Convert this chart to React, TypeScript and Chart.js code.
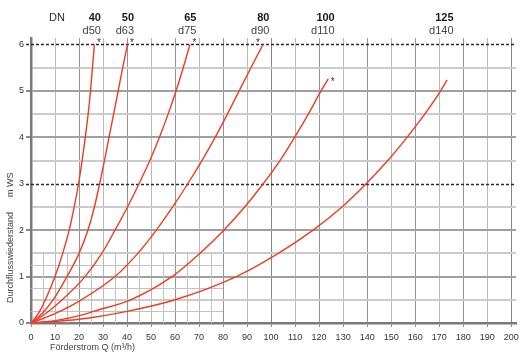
import React, { useEffect, useRef } from 'react';
import { Chart, registerables } from 'chart.js';

Chart.register(...registerables);

// ---- data (Q in m³/h, H in m WS) ----
const dn40Q = [0, 3, 6, 10, 13.2, 15.9, 18, 19.8, 21.3, 22.6, 23.8, 24.8, 25.6, 26.4];
const dn40H = [0, 0.2, 0.5, 1, 1.5, 2, 2.5, 3, 3.5, 4, 4.5, 5, 5.5, 6];
const dn50Q = [0, 4.5, 9.2, 15, 20, 23.7, 26.4, 28.6, 30.6, 32.5, 34.4, 36.3, 38.2, 40.2];
const dn50H = [0, 0.2, 0.5, 1, 1.5, 2, 2.5, 3, 3.5, 4, 4.5, 5, 5.5, 6];
const dn65Q = [0, 6, 13, 22.5, 29.5, 35, 40.2, 45, 49.5, 53.5, 57.1, 60.4, 63.4, 66.2];
const dn65H = [0, 0.2, 0.5, 1, 1.5, 2, 2.5, 3, 3.5, 4, 4.5, 5, 5.5, 6];
const dn80Q = [0, 10, 21, 35, 44.5, 52.2, 59, 65.3, 71.2, 76.7, 81.8, 86.7, 91.6, 96.6];
const dn80H = [0, 0.2, 0.5, 1, 1.5, 2, 2.5, 3, 3.5, 4, 4.5, 5, 5.5, 6];
const dn100Q = [0, 10, 21.8, 26, 41.5, 58.7, 70.3, 80.3, 89, 96.7, 103.7, 109.8, 115.5, 120.8, 123.8];
const dn100H = [0, 0.05, 0.18, 0.25, 0.5, 1, 1.5, 2, 2.5, 3, 3.5, 4, 4.5, 5, 5.26];
const dn125Q = [0, 20, 40, 60, 85.5, 103, 117.5, 129.5, 139.6, 148.6, 156.6, 164, 170.6, 173.3];
const dn125H = [0, 0.08, 0.25, 0.5, 1, 1.5, 2, 2.5, 3, 3.5, 4, 4.5, 5, 5.24];

const dnLabels = ['40', '50', '65', '80', '100', '125'];
const dLabels = ['d50', 'd63', 'd75', 'd90', 'd110', 'd140'];
const hasAsterisk = [true, true, true, true, true, false];

const xTickValues = [0, 10, 20, 30, 40, 50, 60, 70, 80, 90, 100, 110, 120, 130, 140, 150, 160, 170, 180, 190, 200];
const yTickValues = [0, 0.5, 1, 1.5, 2, 2.5, 3, 3.5, 4, 4.5, 5, 5.5, 6];
const fineXValues = [5, 15, 25, 35, 45, 55, 65, 75];
const fineYValues = [0.25, 0.75, 1.25];
const fineXMax = 80;
const fineYMax = 1.5;
const dashedYValues = [3, 6];

const xTitle = 'Förderstrom Q (m³/h)';
const yTitleMain = 'Durchflusswiederstand';
const yTitleUnit = 'm WS';

const series = [
  [dn40Q, dn40H],
  [dn50Q, dn50H],
  [dn65Q, dn65H],
  [dn80Q, dn80H],
  [dn100Q, dn100H],
  [dn125Q, dn125H],
];

const FONT = '"Liberation Sans", Arial, Helvetica, sans-serif';
const CURVE = '#ef3b24';

const overlay = {
  id: 'overlay',
  beforeDatasetsDraw(chart: any) {
    const { ctx, scales } = chart;
    const x = scales.x;
    const y = scales.y;
    ctx.save();
    ctx.strokeStyle = '#c2c2c2';
    ctx.lineWidth = 1;
    fineYValues.forEach((v) => {
      const py = Math.round(y.getPixelForValue(v)) + 0.5;
      ctx.beginPath();
      ctx.moveTo(x.getPixelForValue(0), py);
      ctx.lineTo(x.getPixelForValue(fineXMax), py);
      ctx.stroke();
    });
    fineXValues.forEach((v) => {
      const px = Math.round(x.getPixelForValue(v)) + 0.5;
      ctx.beginPath();
      ctx.moveTo(px, y.getPixelForValue(0));
      ctx.lineTo(px, y.getPixelForValue(fineYMax));
      ctx.stroke();
    });
    ctx.strokeStyle = '#2a2a2a';
    ctx.lineWidth = 1.3;
    ctx.setLineDash([3, 2]);
    dashedYValues.forEach((v) => {
      const py = Math.round(y.getPixelForValue(v)) + 0.5;
      ctx.beginPath();
      ctx.moveTo(x.left - 5, py);
      ctx.lineTo(x.right, py);
      ctx.stroke();
    });
    ctx.restore();
  },
  afterDraw(chart: any) {
    const { ctx, scales } = chart;
    const x = scales.x;
    const y = scales.y;
    const top = chart.chartArea.top;
    ctx.save();
    ctx.fillStyle = '#2a2a2a';
    ctx.textBaseline = 'middle';
    ctx.font = `11px ${FONT}`;
    ctx.textAlign = 'right';
    ctx.fillText('DN', x.left + 34, top - 20);
    series.forEach(([qs, hs], i) => {
      const endQ = qs[qs.length - 1];
      const endH = hs[hs.length - 1];
      const ex = x.getPixelForValue(endQ);
      const ey = y.getPixelForValue(endH);
      ctx.textAlign = 'right';
      ctx.font = `bold 11px ${FONT}`;
      ctx.fillStyle = '#1a1a1a';
      ctx.fillText(dnLabels[i], ex + 6.5, top - 20);
      ctx.font = `11px ${FONT}`;
      ctx.fillStyle = '#444';
      ctx.fillText(dLabels[i], ex + 6.5, top - 7);
      if (hasAsterisk[i]) {
        ctx.font = `10px ${FONT}`;
        ctx.fillStyle = '#333';
        ctx.textAlign = 'center';
        const dx = i === 3 ? -5 : 4.5;
        const dy = i === 4 ? 3 : -1;
        ctx.fillText('*', ex + dx, ey + dy);
      }
    });
    ctx.fillStyle = '#444';
    ctx.font = `9px ${FONT}`;
    ctx.textAlign = 'left';
    ctx.fillText(xTitle, x.left + 19, x.bottom - 9);
    ctx.save();
    ctx.translate(11, y.getPixelForValue(0) - 20);
    ctx.rotate(-Math.PI / 2);
    ctx.fillText(yTitleMain, 0, 0);
    ctx.restore();
    ctx.save();
    ctx.translate(11, y.getPixelForValue(0) - 126);
    ctx.rotate(-Math.PI / 2);
    ctx.fillText(yTitleUnit, 0, 0);
    ctx.restore();
    ctx.restore();
  },
};

export default function App() {
  const ref = useRef<HTMLCanvasElement>(null);
  useEffect(() => {
    const canvas = ref.current!;
    const chart = new Chart(canvas, {
      type: 'line',
      data: {
        datasets: series.map(([qs, hs], i) => ({
          label: 'DN' + dnLabels[i],
          data: qs.map((q, j) => ({ x: q, y: hs[j] })),
          borderColor: CURVE,
          borderWidth: 1.4,
          pointRadius: 0,
          fill: false,
          cubicInterpolationMode: 'monotone' as const,
        })),
      },
      options: {
        animation: false,
        responsive: false,
        devicePixelRatio: 1,
        layout: { padding: { top: 38, right: 12, left: 0, bottom: 0 } },
        plugins: {
          legend: { display: false },
          tooltip: { enabled: false },
          title: { display: false },
        },
        scales: {
          x: {
            type: 'linear',
            min: 0,
            max: 202,
            afterFit: (s: any) => {
              s.height = 34;
            },
            afterBuildTicks: (s: any) => {
              s.ticks = xTickValues.map((v) => ({ value: v }));
            },
            ticks: {
              autoSkip: false,
              maxRotation: 0,
              padding: 5,
              color: '#333',
              font: { family: FONT, size: 9 },
              callback: (v: any) => String(v),
            },
            grid: {
              color: (c: any) => {
                const v = c.tick?.value;
                if (v === 0) return 'rgba(0,0,0,0)';
                if (v === 100 || v === 200) return '#858585';
                return v % 20 === 0 ? '#959595' : '#b9b9b9';
              },
              lineWidth: 1,
              tickLength: 4,
              tickColor: '#8a8a8a',
            },
            border: { display: true, color: '#7a7a7a', width: 2.5 },
          },
          y: {
            type: 'linear',
            min: 0,
            max: 6.14,
            afterFit: (s: any) => {
              s.width = 31;
            },
            afterBuildTicks: (s: any) => {
              s.ticks = yTickValues.map((v) => ({ value: v }));
            },
            ticks: {
              autoSkip: false,
              padding: 2,
              color: '#333',
              font: { family: FONT, size: 9 },
              callback: (v: any) => (Number.isInteger(v) ? String(v) : ''),
            },
            grid: {
              color: (c: any) => {
                const v = c.tick?.value;
                if (v === 0 || dashedYValues.includes(v)) return 'rgba(0,0,0,0)';
                return Number.isInteger(v) ? '#a0a0a0' : '#cbcbcb';
              },
              lineWidth: 2,
              tickLength: 5,
              tickColor: (c: any) => {
                const v = c.tick?.value;
                if (dashedYValues.includes(v)) return 'rgba(0,0,0,0)';
                return Number.isInteger(v) ? '#8a8a8a' : 'rgba(0,0,0,0)';
              },
            },
            border: { display: true, color: '#7a7a7a', width: 2.5 },
          },
        },
      },
      plugins: [overlay],
    });
    return () => chart.destroy();
  }, []);
  return (
    <div style={{ position: 'fixed', left: 0, top: 0, width: 528, height: 357, background: '#fff' }}>
      <canvas ref={ref} width={528} height={357} style={{ width: 528, height: 357, display: 'block' }} />
    </div>
  );
}
